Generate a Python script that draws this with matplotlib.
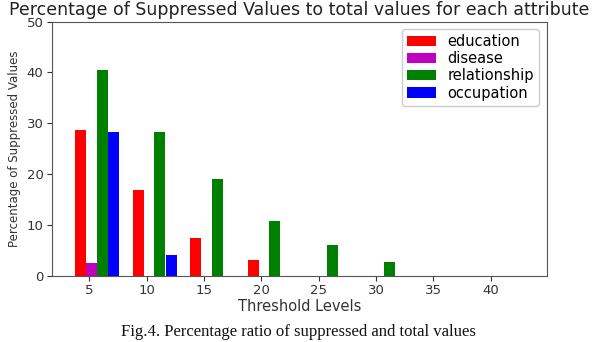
import matplotlib
matplotlib.use("Agg")
import matplotlib.pyplot as plt
import numpy as np

thresholds = [5, 10, 15, 20, 25, 30, 35, 40]
education = [28.6, 16.9, 7.5, 3.1, 0, 0, 0, 0]
disease = [2.6, 0, 0, 0, 0, 0, 0, 0]
relationship = [40.5, 28.2, 19.1, 10.8, 6.1, 2.8, 0, 0]
occupation = [28.3, 4.2, 0, 0, 0, 0, 0, 0]

series = [("education", education, "red", -0.72),
          ("disease", disease, "m", 0.2),
          ("relationship", relationship, "green", 1.17),
          ("occupation", occupation, "blue", 2.14)]

fig = plt.figure(figsize=(5.96, 3.42), dpi=100)
ax = fig.add_axes([0.087, 0.193, 0.83, 0.744])
x = np.array(thresholds, dtype=float)
for name, vals, col, off in series:
    ax.bar(x + off, vals, width=0.96, color=col, label=name)

ax.set_xlim(1.75, 44.85)
ax.set_ylim(0, 50)
ax.set_xticks(thresholds)
ax.set_yticks([0, 10, 20, 30, 40, 50])
ax.tick_params(labelsize=9.5, colors="#333333", labelcolor="#333333", pad=2.5)
for s in ax.spines.values():
    s.set_color("#555555")
ax.set_xlabel("Threshold Levels", fontsize=10.5, color="#333333", labelpad=1.5)
ax.set_ylabel("Percentage of Suppressed Values", fontsize=8.5, color="#333333", labelpad=4)
ax.set_title("Percentage of Suppressed Values to total values for each attribute",
             fontsize=12.5, color="#222222", pad=4.8)
ax.legend(loc="upper right", fontsize=10.5, handlelength=2.0, labelspacing=0.15,
          borderaxespad=0.5, framealpha=1, borderpad=0.35)
fig.text(0.5, 0.028, "Fig.4. Percentage ratio of suppressed and total values",
         ha="center", va="center", fontsize=12, family="Liberation Serif", color="#111111")
fig.savefig("out.png", dpi=100)
